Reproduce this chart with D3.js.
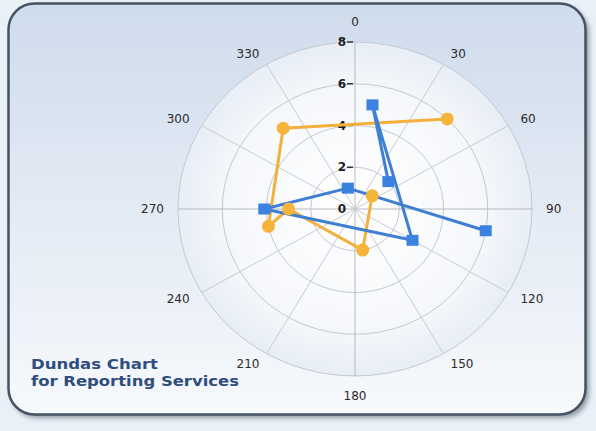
<!DOCTYPE html>
<html><head><meta charset="utf-8">
<script src="https://cdn.jsdelivr.net/npm/d3@7"></script>
<style>html,body{margin:0;padding:0;background:#eaf1f8;}svg{display:block;}</style>
</head><body>
<svg id="chart" width="596" height="431"></svg>
<script>
// ---- data ----
const angleTicks = [0, 30, 60, 90, 120, 150, 180, 210, 240, 270, 300, 330];
const valueTicks = [0, 2, 4, 6, 8];
const blueAngles = [49, 9, 120, 270, 342, 100];
const blueValues = [2.0, 5.05, 3.0, 4.1, 1.05, 6.0];
const orangeAngles = [44, 320, 258, 270, 170, 51];
const orangeValues = [6.0, 5.05, 4.0, 3.0, 2.0, 1.0];
const titleLines = ["Dundas Chart", "for Reporting Services"];

const svg = d3.select("#chart");
const W = 596, H = 431;
const cx = 355, cy = 209;
const rX = d3.scaleLinear().domain([0, 8]).range([0, 177]);
const rY = d3.scaleLinear().domain([0, 8]).range([0, 167]);
const rad = a => a * Math.PI / 180;
const px = (a, v) => cx + rX(v) * Math.sin(rad(a));
const py = (a, v) => cy - rY(v) * Math.cos(rad(a));

const defs = svg.append("defs");
const bg = defs.append("linearGradient").attr("id", "bg").attr("x1", 0).attr("y1", 0).attr("x2", 0).attr("y2", 1);
bg.append("stop").attr("offset", "0%").attr("stop-color", "#cfdcec");
bg.append("stop").attr("offset", "100%").attr("stop-color", "#f7f9fc");
const pg = defs.append("radialGradient").attr("id", "plotbg").attr("cx", "50%").attr("cy", "50%").attr("r", "50%");
pg.append("stop").attr("offset", "0%").attr("stop-color", "#ffffff");
pg.append("stop").attr("offset", "70%").attr("stop-color", "#f6f8fb");
pg.append("stop").attr("offset", "100%").attr("stop-color", "#e8eef6");
const sh = defs.append("filter").attr("id", "shadow").attr("x", "-5%").attr("y", "-5%").attr("width", "110%").attr("height", "115%");
sh.append("feGaussianBlur").attr("stdDeviation", 2.5);

// frame
svg.append("rect").attr("x", 0).attr("y", 0).attr("width", W).attr("height", H).attr("fill", "#e9f0f7");
svg.append("rect").attr("x", 11).attr("y", 7).attr("width", 578).attr("height", 411).attr("rx", 26)
  .attr("fill", "#6a7380").attr("opacity", 0.7).attr("filter", "url(#shadow)");
svg.append("rect").attr("x", 8.5).attr("y", 3.5).attr("width", 577).attr("height", 411).attr("rx", 26)
  .attr("fill", "url(#bg)").attr("stroke", "#465263").attr("stroke-width", 2.5);

// plot area
svg.append("ellipse").attr("cx", cx).attr("cy", cy).attr("rx", rX(8)).attr("ry", rY(8))
  .attr("fill", "url(#plotbg)");

const grid = svg.append("g").attr("fill", "none").attr("stroke", "#c5c9ce").attr("stroke-width", 1);
grid.selectAll("ellipse").data(valueTicks.filter(d => d > 0)).join("ellipse")
  .attr("cx", cx).attr("cy", cy).attr("rx", d => rX(d)).attr("ry", d => rY(d));
grid.selectAll("line").data(angleTicks).join("line")
  .attr("x1", cx).attr("y1", cy)
  .attr("x2", d => px(d, 8)).attr("y2", d => py(d, 8))
  .attr("stroke", d => (d === 0 || d === 90 || d === 180 || d === 270) ? "#b5b9be" : "#c8ccd1");

// angle labels
svg.append("g").selectAll("text").data(angleTicks).join("text")
  .attr("font-family", "DejaVu Sans, Verdana, sans-serif").attr("font-size", 12)
  .attr("fill", "#2a2a2a").attr("text-anchor", "middle").attr("dominant-baseline", "central")
  .text(d => d)
  .attr("x", function(d) {
    const s = Math.sin(rad(d));
    const hw = this.getComputedTextLength() / 2;
    const sg = Math.abs(s) < 1e-6 ? 0 : Math.sign(s);
    return cx + s * 191 + sg * hw;
  })
  .attr("y", d => {
    const c = Math.cos(rad(d));
    const sg = Math.abs(c) < 1e-6 ? 0 : Math.sign(c);
    return cy - (c * 170 + sg * (5 + 12 * Math.pow(Math.abs(c), 10)));
  });

// value axis labels
const va = svg.append("g");
va.selectAll("text").data(valueTicks).join("text")
  .attr("x", cx - 9).attr("y", d => cy - rY(d)).attr("dominant-baseline", "central")
  .attr("text-anchor", "end").attr("font-family", "DejaVu Sans, Verdana, sans-serif")
  .attr("font-size", 12).attr("font-weight", "bold").attr("fill", "#1e1e1e").text(d => d);
va.selectAll("line").data(valueTicks.filter(d => d > 0)).join("line")
  .attr("x1", cx - 8).attr("x2", cx - 2).attr("y1", d => cy - rY(d)).attr("y2", d => cy - rY(d))
  .attr("stroke", "#333").attr("stroke-width", 1.5);

// series
const blue = blueAngles.map((a, i) => [a, blueValues[i]]);
const orange = orangeAngles.map((a, i) => [a, orangeValues[i]]);
const line = d3.line().x(d => px(d[0], d[1])).y(d => py(d[0], d[1]));

svg.append("path").datum(orange).attr("d", line).attr("fill", "none")
  .attr("stroke", "#f3b03c").attr("stroke-width", 3).attr("stroke-linejoin", "round");
svg.append("path").datum(blue).attr("d", line).attr("fill", "none")
  .attr("stroke", "#3f7fd2").attr("stroke-width", 3).attr("stroke-linejoin", "round");

svg.append("g").selectAll("circle").data(orange).join("circle")
  .attr("cx", d => px(d[0], d[1])).attr("cy", d => py(d[0], d[1])).attr("r", 6.5)
  .attr("fill", "#f7b43a");
svg.append("g").selectAll("rect").data(blue).join("rect")
  .attr("x", d => px(d[0], d[1]) - 6).attr("y", d => py(d[0], d[1]) - 5.5)
  .attr("width", 12).attr("height", 11).attr("fill", "#3a82e0");

// title
svg.append("g").selectAll("text").data(titleLines).join("text")
  .attr("x", 31).attr("y", (d, i) => 369 + i * 17)
  .attr("font-family", "DejaVu Sans, Verdana, sans-serif").attr("font-size", 14)
  .attr("font-weight", "bold").attr("fill", "#2f4d7d")
  .attr("textLength", (d, i) => i === 0 ? 127 : 208).attr("lengthAdjust", "spacingAndGlyphs")
  .text(d => d);
</script>
</body></html>
